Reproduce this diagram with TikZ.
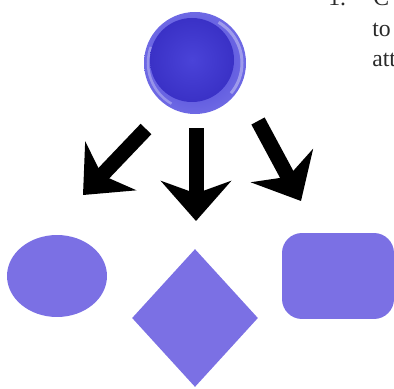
\documentclass[tikz,border=0pt]{standalone}
\usepackage{fontspec}
\setmainfont{Liberation Serif}
\usepackage{tikz}
\usetikzlibrary{arrows.meta,shapes.geometric}
\definecolor{cshape}{HTML}{7B70E4}
\definecolor{cball}{HTML}{4A43D8}
\definecolor{cballrim}{HTML}{6E69E4}
\definecolor{cballcore}{HTML}{3A31C6}
\definecolor{ctext}{HTML}{2A2A2A}

\begin{document}
\begin{tikzpicture}[x=0.02cm,y=-0.02cm,
  flat/.style={fill=cshape,draw=none,inner sep=0pt},
  bigarrow/.style={line width=0.3cm,-{Stealth[length=0.8cm,width=1.4cm,inset=0.25cm]}},
  sidetext/.style={anchor=base west,inner sep=0pt,text=ctext,font=\fontsize{13.5}{16}\selectfont}]
  \useasboundingbox (0,0) rectangle (394,388);
  \clip (0,0) rectangle (394,388);
  % ball
  \shade[inner color=cball,outer color=cballrim] (195,63) circle (51);
  \draw[white,opacity=0.35,line width=0.06cm] (195,63) ++(-60:47) arc (-60:40:47);
  \draw[white,opacity=0.3,line width=0.05cm] (195,63) ++(120:47) arc (120:200:47);
  \shade[inner color=cball,outer color=cballcore] (192,60) circle (42);
  \node[circle,inner sep=0pt,minimum size=2.04cm] (ball) at (195,63) {};
  % shapes
  \node[flat,ellipse,minimum width=2cm,minimum height=1.64cm] (oval) at (57,276) {};
  \node[flat,diamond,minimum width=2.52cm,minimum height=2.76cm] (diam) at (195,318) {};
  \node[flat,rectangle,rounded corners=0.4cm,minimum width=2.24cm,minimum height=1.72cm] (box) at (338,276) {};
  % arrows
  \coordinate (lt) at (146,129);
  \coordinate (lh) at (83,195);
  \coordinate (mt) at (196,128);
  \coordinate (mh) at (196,221);
  \coordinate (rt) at (258,121);
  \coordinate (rh) at (301,201);
  \draw[bigarrow] (lt) -- (lh);
  \draw[bigarrow] (mt) -- (mh);
  \draw[bigarrow] (rt) -- (rh);
  % text
  \node[sidetext] (n1) at (328,6) {1.};
  \node[sidetext] (w0) at (373,6) {C};
  \node[sidetext] (w1) at (372,37) {to};
  \node[sidetext] (w2) at (372,67) {att};
\end{tikzpicture}
\end{document}
